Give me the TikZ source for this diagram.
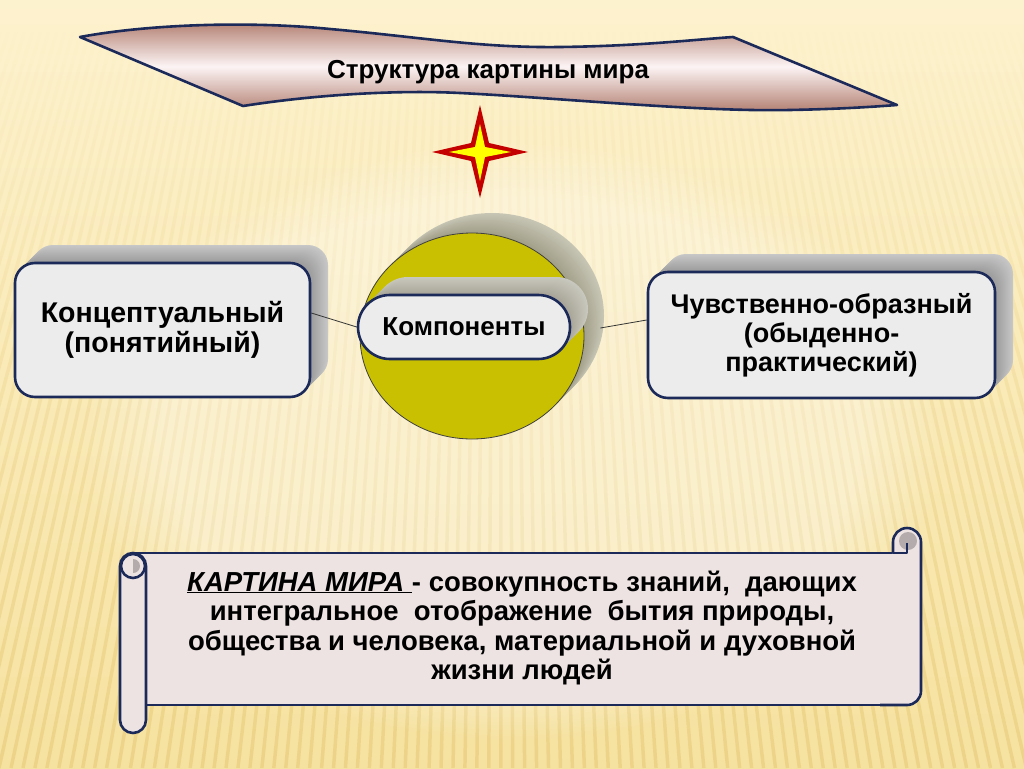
\documentclass[tikz,border=0pt]{standalone}
\usepackage{fontspec}
\setmainfont{Liberation Sans}
\usetikzlibrary{positioning,calc,fadings,shapes.geometric}

\definecolor{bgtop}{RGB}{253,242,206}
\definecolor{bgbot}{RGB}{246,226,160}
\definecolor{ray}{RGB}{226,194,108}
\definecolor{navy}{RGB}{28,42,90}
\definecolor{ballolive}{RGB}{200,192,0}
\definecolor{bannerdark}{RGB}{178,126,112}
\definecolor{bannerlight}{RGB}{252,244,244}
\definecolor{scrollfill}{RGB}{238,227,227}
\definecolor{boxfill}{RGB}{236,236,236}
\definecolor{curlgray}{RGB}{180,172,172}
\definecolor{starred}{RGB}{196,0,0}
\definecolor{staryellow}{RGB}{255,255,0}

\tikzset{
    outline/.style={draw=navy, line width=2.6pt},
    boxnode/.style={outline, fill=boxfill, rounded corners=20pt, align=center,
        font=\bfseries\fontsize{27}{29}\selectfont, inner sep=0pt},
    link/.style={draw=black!80, line width=0.8pt}
}

\begin{document}
\begin{tikzpicture}[x=1pt,y=-1pt,line join=round]
    % background
    \useasboundingbox (0,0) rectangle (1024,768);
    \shade[top color=bgtop, bottom color=bgbot] (0,0) rectangle (1024,768);
    \begin{scope}
        \clip (0,0) rectangle (1024,768);
        \draw[ray, line width=3.5pt, opacity=0.45, path fading=north]
            \foreach \x in {-700,-688,...,1720} {({512+0.675*(\x-512)},30) -- (\x,768)};
        \fill[white, opacity=0.35, path fading=circle with fuzzy edge 20 percent]
            (512,440) ellipse [x radius=430pt, y radius=300pt];
    \end{scope}

    % banner
    \draw[outline, top color=bannerdark, bottom color=bannerdark, middle color=bannerlight]
        (80,37) .. controls (150,24) and (250,21) .. (330,29)
        .. controls (420,37) and (480,48) .. (560,47)
        .. controls (640,46) and (690,40) .. (733,37) -- (897,105)
        .. controls (870,107) and (840,109) .. (790,110)
        .. controls (700,112) and (560,98) .. (460,93)
        .. controls (400,90) and (320,94) .. (243,106) -- cycle;
    \node[font=\bfseries\fontsize{26}{30}\selectfont] (title) at (488,72) {Структура картины мира};

    % star
    \fill[starred] (480,105) -- (489,143) -- (528,152) -- (489,161) -- (480,198)
        -- (471,161) -- (432,152) -- (471,143) -- cycle;
    \fill[staryellow] (480,124) -- (485,147) -- (511,152) -- (485,157) -- (480,181)
        -- (475,157) -- (449,152) -- (475,147) -- cycle;

    % side boxes
    \foreach \i in {18,...,1}{
        \pgfmathtruncatemacro\g{40-\i}
        \fill[black!\g!white, rounded corners=20pt] (15+\i,263-\i) rectangle (310+\i,397-\i);
        \fill[black!\g!white, rounded corners=20pt] (648+\i,272-\i) rectangle (995+\i,398-\i);
    }
    \node[boxnode, minimum width=295pt, minimum height=134pt,
        font=\bfseries\fontsize{28.5}{30}\selectfont] (concept) at (162.5,330)
        {Концептуальный\\(понятийный)};
    \node[boxnode, minimum width=347pt, minimum height=126pt] (sense) at (821.5,335)
        {Чувственно-образный\\(обыденно-\\практический)};

    % ball
    \foreach \i in {20,...,1}{
        \pgfmathtruncatemacro\g{50-\i}
        \fill[olive!30!black!\g!white] (472+\i,336-\i) ellipse [x radius=112pt, y radius=103pt];
    }
    \node[ellipse, draw=black!75, line width=0.8pt, fill=ballolive, inner sep=0pt,
        minimum width=224pt, minimum height=206pt] (ball) at (472,336) {};

    % pill
    \foreach \i in {18,...,1}{
        \pgfmathtruncatemacro\g{45-\i}
        \fill[olive!20!black!\g!white, rounded corners=31.9pt] (358+\i,295-\i) rectangle (570+\i,359-\i);
    }
    \node[outline, fill=boxfill, rounded corners=31.9pt, minimum width=212pt, minimum height=64pt,
        font=\bfseries\fontsize{26}{30}\selectfont] (comp) at (464,327) {Компоненты};

    % links
    \coordinate (rim) at ([xshift=16pt,yshift=8pt]ball.east);
    \draw[link] ([yshift=17pt]concept.east) -- (comp.west);
    \draw[link] ([yshift=15pt]sense.west) -- (rim);

    % scroll
    \fill[scrollfill] (140,553) rectangle (907,705);
    \draw[outline] (133,553) -- (893,553) (146,705) -- (907,705);
    \filldraw[outline, fill=scrollfill, rounded corners=13pt] (120,553) rectangle (146,733);
    \filldraw[outline, fill=scrollfill] (133,566) circle[radius=12pt];
    \fill[curlgray] (133,559) arc[start angle=90, end angle=-90, radius=7pt] -- cycle;
    \filldraw[outline, fill=scrollfill, rounded corners=14pt]
        (880,705) -- (921,705) -- (921,528) -- (893,528) -- (893,553);
    \fill[curlgray] (908,541) circle[radius=9pt];
    \draw[outline] (893,553) -- (907,553) -- (907,543);
    \node[align=center, font=\bfseries\fontsize{27.5}{29.5}\selectfont] (definition) at (522,628)
        {\underline{\textit{КАРТИНА МИРА }}- совокупность знаний,\ \ дающих\\
        интегральное\ \ отображение\ \ бытия природы,\\
        общества и человека, материальной и духовной\\
        жизни людей};
\end{tikzpicture}
\end{document}
